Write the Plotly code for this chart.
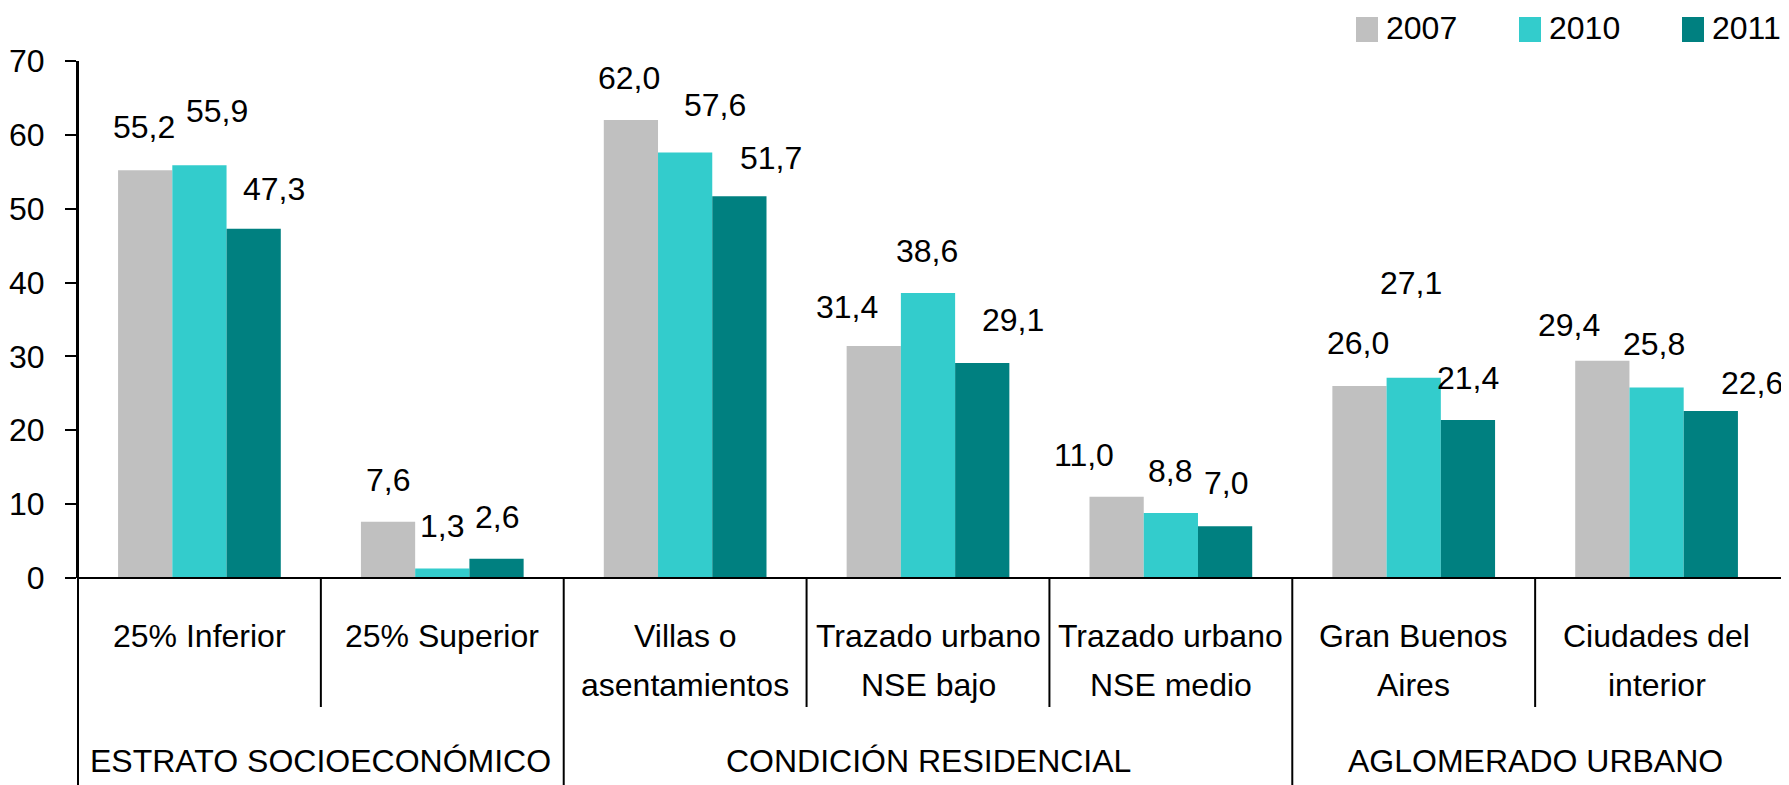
import plotly.graph_objects as go

# --- data ---
categories = ["25% Inferior", "25% Superior", "Villas o\nasentamientos",
              "Trazado urbano\nNSE bajo", "Trazado urbano\nNSE medio",
              "Gran Buenos\nAires", "Ciudades del\ninterior"]
groups = ["ESTRATO SOCIOECONÓMICO", "CONDICIÓN RESIDENCIAL", "AGLOMERADO URBANO"]
group_sizes = [2, 3, 2]

years = ["2007", "2010", "2011"]
v2007 = [55.2, 7.6, 62.0, 31.4, 11.0, 26.0, 29.4]
v2010 = [55.9, 1.3, 57.6, 38.6, 8.8, 27.1, 25.8]
v2011 = [47.3, 2.6, 51.7, 29.1, 7.0, 21.4, 22.6]
y_ticks = [0, 10, 20, 30, 40, 50, 60, 70]

colors = ["#C0C0C0", "#33CCCC", "#008080"]

# hand-placed value labels: offset (px) from bar centre / bar top
label_dx = [[-1, 0, -2, -27, -33, -1, -33],
            [18, 0, 30, -1, -1, -3, -3],
            [20, 0, 32, 31, 1, 0, 41]]
label_dy = [[41, 40, 40, 37, 40, 41, 34],
            [52, 40, 46, 40, 40, 93, 41],
            [38, 40, 36, 41, 41, 40, 26]]

# --- geometry (px, in page coords; the page body adds an 8px margin) ---
PAD = 8
W, H = 1789 - PAD, 785 - PAD
L, R, T, B = 78 - PAD, 1778 - PAD, 61 - PAD, 578 - PAD
BARGAP = 0.33
FONT = "Liberation Sans, Arial, sans-serif"
FS = 32
DIGIT_OFF = 2


def px_y(p):
    # page y -> paper y
    return (B - (p - PAD)) / (B - T)


def px_x(p):
    return ((p - PAD) - L) / (R - L)


keys = [c.replace("\n", " ") for c in categories]
series = [v2007, v2010, v2011]

fig = go.Figure()
for name, vals, col in zip(years, series, colors):
    fig.add_trace(go.Bar(x=keys, y=vals, name=name, marker=dict(color=col, line=dict(width=0)),
                         hoverinfo="x+y+name"))

cat_w = (R - L) / len(keys)
bar_w = cat_w * (1 - BARGAP) / 3

annotations = []
for i, vals in enumerate(series):
    for j, v in enumerate(vals):
        annotations.append(dict(
            x=keys[j], y=v, xref="x", yref="y",
            text=f"{v:.1f}".replace(".", ","), showarrow=False,
            xshift=(i - 1) * bar_w + label_dx[i][j], yshift=label_dy[i][j] + DIGIT_OFF,
            xanchor="center", yanchor="middle",
            font=dict(size=FS, color="black", family=FONT)))

# category labels under the axis
line_y = [636, 685]
for j, c in enumerate(categories):
    for k, part in enumerate(c.split("\n")):
        annotations.append(dict(
            x=(j + 0.5) / len(keys), y=px_y(line_y[k]), xref="paper", yref="paper",
            text=part, showarrow=False, xanchor="center", yanchor="middle",
            font=dict(size=FS, color="black", family=FONT)))

shapes = []
start = 0
for g, n in zip(groups, group_sizes):
    annotations.append(dict(
        x=(start + n / 2) / len(keys), y=px_y(761), xref="paper", yref="paper",
        text=g, showarrow=False, xanchor="center", yanchor="middle",
        font=dict(size=FS, color="black", family=FONT)))
    # long divider at group boundary
    shapes.append(dict(type="line", xref="paper", yref="paper",
                       x0=start / len(keys), x1=start / len(keys),
                       y0=1 if start == 0 else 0, y1=px_y(800),
                       line=dict(color="black", width=2)))
    for k in range(1, n):
        xs = (start + k) / len(keys)
        shapes.append(dict(type="line", xref="paper", yref="paper",
                           x0=xs, x1=xs, y0=0, y1=px_y(707),
                           line=dict(color="black", width=2)))
    start += n

# baseline running to the right edge
shapes.append(dict(type="line", xref="paper", yref="paper",
                   x0=0, x1=px_x(1800), y0=0, y1=0, line=dict(color="black", width=2)))

# legend drawn by hand (larger swatches than plotly's legend)
leg_x = [1356, 1519, 1682]
for name, col, lx in zip(years, colors, leg_x):
    shapes.append(dict(type="rect", xref="paper", yref="paper",
                       x0=px_x(lx), x1=px_x(lx + 22), y0=px_y(42), y1=px_y(17),
                       fillcolor=col, line=dict(width=0)))
    annotations.append(dict(x=px_x(lx + 28), y=px_y(28), xref="paper", yref="paper",
                            text=name, showarrow=False, xanchor="left", yanchor="middle",
                            font=dict(size=FS, color="black", family=FONT)))

fig.update_layout(
    width=W, height=H,
    margin=dict(l=L, r=W - R, t=T, b=H - B, autoexpand=False),
    paper_bgcolor="white", plot_bgcolor="white",
    barmode="group", bargap=BARGAP, bargroupgap=0,
    showlegend=False,
    font=dict(family=FONT, size=FS, color="black"),
    annotations=annotations, shapes=shapes,
    xaxis=dict(showticklabels=False, ticks="", showline=False, showgrid=False,
               zeroline=False, range=[-0.5, len(keys) - 0.5], automargin=False),
    yaxis=dict(range=[0, 70], tickvals=y_ticks, ticks="outside", ticklen=11,
               tickwidth=2, tickcolor="black", showline=True, linecolor="black",
               linewidth=2, showgrid=False, zeroline=False, ticklabelstandoff=14,
               automargin=False,
               tickfont=dict(size=FS, family=FONT, color="black")),
)

fig.write_html("out.html")
